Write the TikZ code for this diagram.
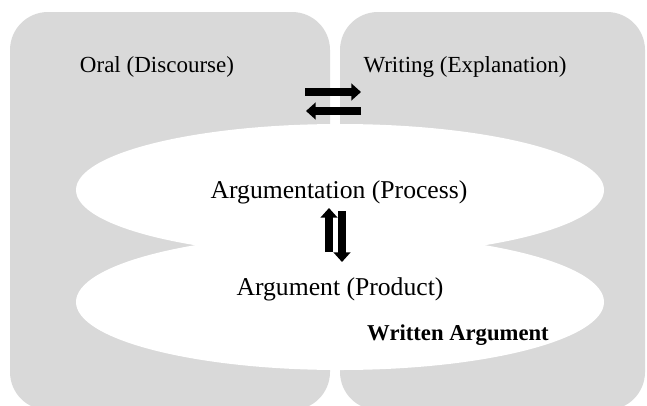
\documentclass[tikz,border=0pt]{standalone}
\usepackage{fontspec}
\setmainfont{Liberation Serif}
\usetikzlibrary{arrows.meta}
\definecolor{boxgray}{RGB}{217,217,217}

\begin{document}
\begin{tikzpicture}[
        sidelabel/.style={font=\fontsize{13.1}{15}\selectfont},
        midlabel/.style={font=\fontsize{14.6}{17}\selectfont},
        flow/.style={line width=4.4pt, -{Triangle[length=5.5pt, width=9.5pt]}}
    ]
                \useasboundingbox (0, 0) rectangle (12.94, 8.1);
                \fill[boxgray, rounded corners=0.76cm] (0.2, -0.1) rectangle (6.6, 7.86);
                \fill[boxgray, rounded corners=0.76cm] (6.8, -0.1) rectangle (12.9, 7.86);
                \fill[white] (6.8, 4.3) ellipse (5.28 and 1.32);
                \fill[white] (6.8, 2.06) ellipse (5.28 and 1.36);

                \node[sidelabel] (oral) at (3.14, 6.76) {Oral (Discourse)};
                \node[sidelabel] (writing) at (9.3, 6.76) {Writing (Explanation)};
                \node[midlabel] (process) at (6.78, 4.26) {Argumentation (Process)};
                \node[midlabel] (product) at (6.8, 2.32) {Argument (Product)};
                \node[sidelabel, font=\fontsize{12.9}{15}\selectfont\bfseries] (written) at (9.16, 1.4) {Written Argument};

                \coordinate (toW0) at (6.1, 6.26);   \coordinate (toW1) at (7.22, 6.26);
                \coordinate (toO0) at (7.22, 5.88);  \coordinate (toO1) at (6.12, 5.88);
                \coordinate (up0) at (6.58, 3.06);   \coordinate (up1) at (6.58, 3.94);
                \coordinate (down0) at (6.84, 3.88); \coordinate (down1) at (6.84, 2.86);
                \draw[flow] (toW0) -- (toW1);
                \draw[flow] (toO0) -- (toO1);
                \draw[flow] (up0) -- (up1);
                \draw[flow] (down0) -- (down1);
\end{tikzpicture}
\end{document}
